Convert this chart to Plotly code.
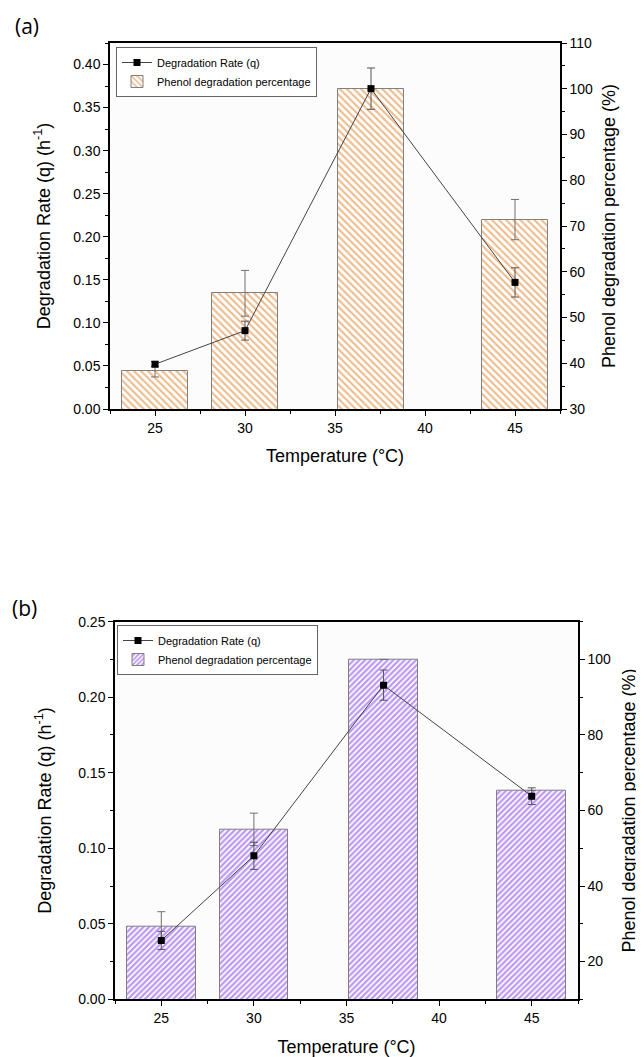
import plotly.graph_objects as go

# ---- data ----
temps = [25, 30, 37, 45]

# panel (a)
rate_a = [0.052, 0.091, 0.372, 0.147]
rate_err_a = [0.003, 0.011, 0.024, 0.017]
pct_a = [38.2, 55.3, 100.0, 71.4]
pct_err_a = [1.2, 5.0, 0.0, 4.4]

# panel (b)
rate_b = [0.039, 0.095, 0.208, 0.1345]
rate_err_b = [0.006, 0.009, 0.010, 0.0055]
pct_b = [29.3, 55.0, 100.0, 65.3]
pct_err_b = [3.9, 4.3, 0.0, 0.0]

x_ticks = [25, 30, 35, 40, 45]

OFF = 8  # page body margin
W, H = 636, 1049
FONT = "Arial"


def px_x(p):
    return (p - OFF) / W


def px_y(p):
    return 1 - (p - OFF) / H


fig = go.Figure()

# ---------- panel (a) ----------
fig.add_trace(go.Bar(
    x=temps, y=pct_a, width=3.7, xaxis="x", yaxis="y",
    name="Phenol degradation percentage", legend="legend", legendrank=2,
    marker=dict(color="white", line=dict(color="#808080", width=1),
                pattern=dict(shape="\\", fgcolor="#DB7A1E", bgcolor="white",
                             size=5, solidity=0.42)),
    error_y=dict(type="data", array=pct_err_a, color="#707070", thickness=1, width=4),
))
fig.add_trace(go.Scatter(
    x=temps, y=rate_a, xaxis="x", yaxis="y2", mode="lines+markers",
    name="Degradation Rate (q)", legend="legend", legendrank=1,
    line=dict(color="#444444", width=1),
    marker=dict(symbol="square", color="black", size=7),
    error_y=dict(type="data", array=rate_err_a, color="#555555", thickness=1, width=4),
))

# ---------- panel (b) ----------
fig.add_trace(go.Bar(
    x=temps, y=pct_b, width=3.7, xaxis="x2", yaxis="y3",
    name="Phenol degradation percentage", legend="legend2", legendrank=2,
    marker=dict(color="white", line=dict(color="#808080", width=1),
                pattern=dict(shape="/", fgcolor="#7A2FEA", bgcolor="white",
                             size=4, solidity=0.55)),
    error_y=dict(type="data", array=pct_err_b, color="#707070", thickness=1, width=4),
))
fig.add_trace(go.Scatter(
    x=temps, y=rate_b, xaxis="x2", yaxis="y4", mode="lines+markers",
    name="Degradation Rate (q)", legend="legend2", legendrank=1,
    line=dict(color="#444444", width=1),
    marker=dict(symbol="square", color="black", size=7),
    error_y=dict(type="data", array=rate_err_b, color="#555555", thickness=1, width=4),
))

tickfont = dict(family=FONT, size=14, color="black")
titlefont = dict(family=FONT, size=18, color="black")

common_axis = dict(showline=True, linecolor="black", linewidth=1.5, ticks="outside",
                   ticklen=5, tickwidth=1.2, tickcolor="black", showgrid=False,
                   zeroline=False, tickfont=tickfont, automargin=False)
minor = dict(ticks="outside", ticklen=3, tickwidth=1, tickcolor="black", showgrid=False)

dom_xa = [px_x(110), px_x(560)]
dom_ya = [px_y(409), px_y(43)]
dom_xb = [px_x(115), px_x(578)]
dom_yb = [px_y(999.3), px_y(621.7)]

fig.update_layout(
    width=W, height=H, autosize=False,
    margin=dict(l=0, r=0, t=0, b=0, autoexpand=False),
    paper_bgcolor="white", plot_bgcolor="#fcfcfc",
    font=dict(family=FONT, color="black"),
    bargap=0,
    xaxis=dict(domain=dom_xa, anchor="y", range=[22.5, 47.5], tickvals=x_ticks,
               mirror=True, minor=dict(dtick=2.5, tick0=0, **minor),
               title=dict(text="Temperature (°C)", font=titlefont, standoff=15),
               **common_axis),
    yaxis=dict(domain=dom_ya, anchor="x", side="right", range=[30, 110], dtick=10, tick0=0,
               minor=dict(dtick=5, tick0=0, **minor),
               title=dict(text="Phenol degradation percentage (%)", font=titlefont, standoff=10),
               **common_axis),
    yaxis2=dict(overlaying="y", anchor="x", side="left", range=[0, 0.425], dtick=0.05, tick0=0,
                tickformat=".2f", minor=dict(dtick=0.025, tick0=0, **minor),
                title=dict(text="Degradation Rate (q) (h<sup>-1</sup>)", font=titlefont, standoff=18),
                **common_axis),
    xaxis2=dict(domain=dom_xb, anchor="y3", range=[22.5, 47.5], tickvals=x_ticks,
                mirror=True, minor=dict(dtick=2.5, tick0=0, **minor),
                title=dict(text="Temperature (°C)", font=titlefont, standoff=17),
                **common_axis),
    yaxis3=dict(domain=dom_yb, anchor="x2", side="right", range=[10, 110], dtick=20, tick0=0,
                minor=dict(dtick=10, tick0=0, **minor),
                title=dict(text="Phenol degradation percentage (%)", font=titlefont, standoff=12),
                **common_axis),
    yaxis4=dict(overlaying="y3", anchor="x2", side="left", range=[0, 0.25], dtick=0.05, tick0=0,
                tickformat=".2f", minor=dict(dtick=0.025, tick0=0, **minor),
                title=dict(text="Degradation Rate (q) (h<sup>-1</sup>)", font=titlefont, standoff=22),
                **common_axis),
    legend=dict(x=px_x(116), y=px_y(47), xanchor="left", yanchor="top",
                bgcolor="white", bordercolor="#666666", borderwidth=1,
                font=dict(family=FONT, size=11, color="black"), tracegroupgap=0,
                itemwidth=30),
    legend2=dict(x=px_x(117), y=px_y(625), xanchor="left", yanchor="top",
                 bgcolor="white", bordercolor="#666666", borderwidth=1,
                 font=dict(family=FONT, size=11, color="black"), tracegroupgap=0,
                 itemwidth=30),
    annotations=[
        dict(text="(a)", x=px_x(27), y=px_y(26), xref="paper", yref="paper",
             xanchor="center", yanchor="middle", showarrow=False,
             font=dict(family="Open Sans, sans-serif", size=21, color="black")),
        dict(text="(b)", x=px_x(24), y=px_y(608), xref="paper", yref="paper",
             xanchor="center", yanchor="middle", showarrow=False,
             font=dict(family="Open Sans, sans-serif", size=21, color="black")),
    ],
)

fig.write_html("out.html")
